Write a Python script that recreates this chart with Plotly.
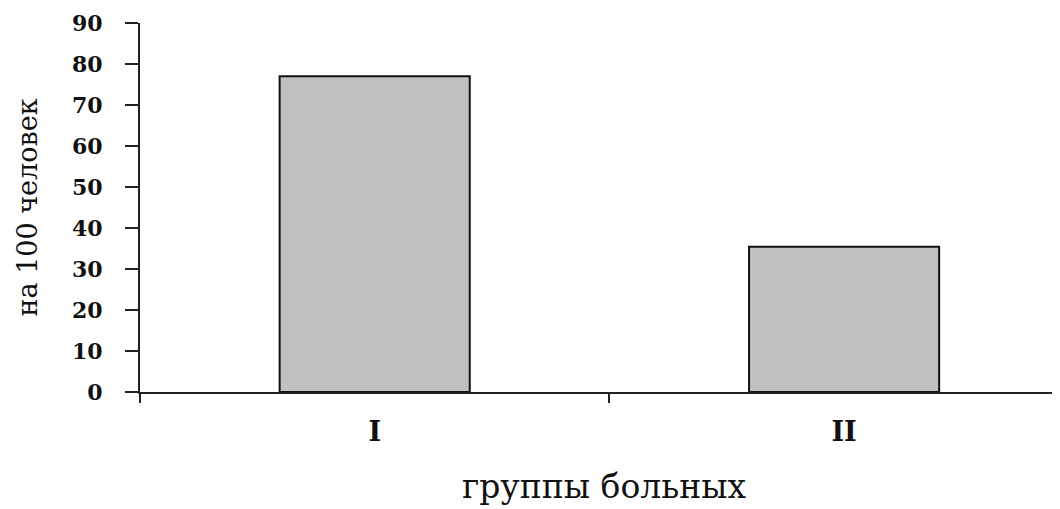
import plotly.graph_objects as go

categories = ["I", "II"]
values = [77, 35.4]
y_ticks = [0, 10, 20, 30, 40, 50, 60, 70, 80, 90]

fig = go.Figure()
fig.add_trace(go.Bar(
    x=categories,
    y=values,
    width=0.405,
    marker=dict(color="#c0c0c0", line=dict(color="#111111", width=2)),
))

serif = "DejaVu Serif"

fig.update_layout(
    width=1060,
    height=509,
    margin=dict(l=132, r=0, t=15, b=125, autoexpand=False),
    paper_bgcolor="white",
    plot_bgcolor="white",
    showlegend=False,
    xaxis=dict(
        type="category",
        range=[-0.5, 1.477],
        showline=True,
        linecolor="#222222",
        linewidth=2,
        ticks="outside",
        tickson="boundaries",
        ticklen=9,
        tickwidth=2,
        tickcolor="#222222",
        showgrid=False,
        tickfont=dict(family=serif, size=27, color="#111111", weight="bold"),
        ticklabelstandoff=15,
        title=dict(text="группы больных",
                   font=dict(family=serif, size=33, color="#111111"),
                   standoff=28),
    ),
    yaxis=dict(
        range=[0, 90],
        tickvals=y_ticks,
        showline=True,
        linecolor="#222222",
        linewidth=2,
        ticks="outside",
        ticklen=13,
        tickwidth=2,
        tickcolor="#222222",
        showgrid=False,
        zeroline=False,
        tickfont=dict(family=serif, size=22, color="#111111", weight="bold"),
        ticklabelstandoff=18,
        title=dict(text="на 100 человек",
                   font=dict(family=serif, size=27, color="#111111"),
                   standoff=27),
    ),
)

fig.write_html("out.html")
